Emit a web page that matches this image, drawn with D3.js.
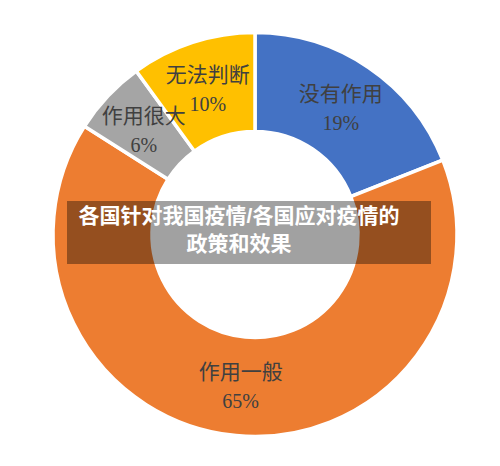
<!DOCTYPE html>
<html>
<head>
<meta charset="utf-8">
<script src="https://cdn.jsdelivr.net/npm/d3@7"></script>
<style>
  body { margin: 0; background: #fff; }
  svg { display: block; }
</style>
</head>
<body>
<svg id="chart" width="500" height="466"></svg>
<script>
// slices, clockwise from 12 o'clock
var categories = ["没有作用", "作用一般", "作用很大", "无法判断"];
var values = [19, 65, 6, 10];
var colors = ["#4472C4", "#ED7D31", "#A5A5A5", "#FFC000"];
var titleLines = ["各国针对我国疫情/各国应对疫情的", "政策和效果"];

var svg = d3.select("#chart");
var cx = 255, cy = 234.5;
var outerR = 202, innerR = 103;

var g = svg.append("g").attr("transform", "translate(" + cx + "," + cy + ")");

var pie = d3.pie().sort(null).value(function(d) { return d.v; });
var data = categories.map(function(c, i) { return {name: c, v: values[i], color: colors[i]}; });
var arcs = pie(data);

var arc = d3.arc().innerRadius(innerR).outerRadius(outerR);
var labelArc = d3.arc().innerRadius((innerR + outerR) / 2).outerRadius((innerR + outerR) / 2);

g.selectAll("path.slice")
    .data(arcs)
    .enter().append("path")
    .attr("class", "slice")
    .attr("d", arc)
    .attr("fill", function(d) { return d.data.color; })
    .attr("stroke", "#fff")
    .attr("stroke-width", 3.5);

var labels = g.selectAll("g.label")
    .data(arcs)
    .enter().append("g")
    .attr("class", "label")
    .attr("transform", function(d) {
        var c = labelArc.centroid(d);
        return "translate(" + c[0] + "," + c[1] + ")";
    });

labels.append("text")
    .attr("text-anchor", "middle")
    .attr("y", -7)
    .style("font-family", "'Liberation Serif', 'Noto Sans CJK SC', serif")
    .style("font-size", "21px")
    .attr("fill", "#404040")
    .text(function(d) { return d.data.name; });

labels.append("text")
    .attr("text-anchor", "middle")
    .attr("y", 22)
    .style("font-family", "'Liberation Serif', 'Noto Sans CJK SC', serif")
    .style("font-size", "20px")
    .attr("fill", "#404040")
    .text(function(d) { return d.data.v + "%"; });

// title banner over the chart
svg.append("rect")
    .attr("x", 67).attr("y", 201)
    .attr("width", 364).attr("height", 63)
    .attr("fill", "rgba(0,0,0,0.37)");

// title, two lines
svg.selectAll("text.title")
    .data(titleLines)
    .enter().append("text")
    .attr("class", "title")
    .attr("x", 239)
    .attr("y", function(d, i) { return 223 + i * 28; })
    .attr("text-anchor", "middle")
    .style("font-family", "'Liberation Sans', 'Noto Sans CJK SC', sans-serif")
    .style("font-weight", "bold")
    .style("font-size", "21px")
    .attr("fill", "#fff")
    .text(function(d) { return d; });
</script>
</body>
</html>
